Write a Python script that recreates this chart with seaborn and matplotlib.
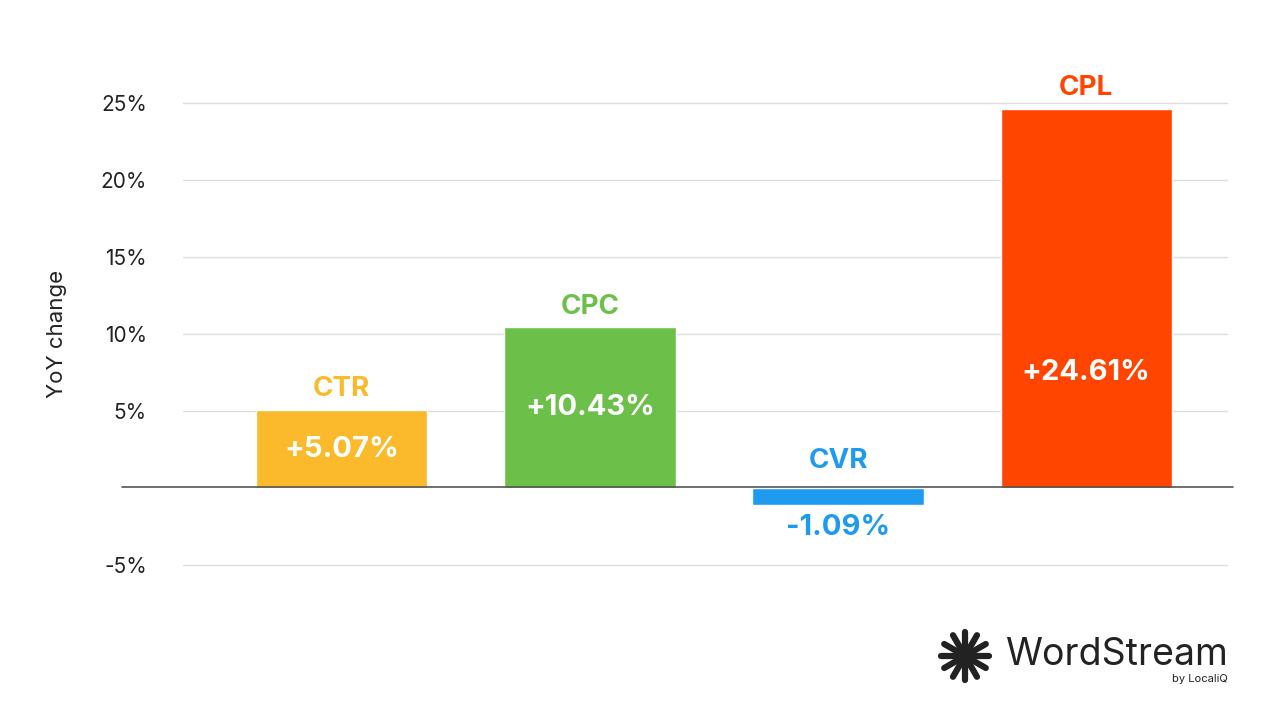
import matplotlib
matplotlib.use("Agg")
import matplotlib.pyplot as plt
import seaborn as sns
import numpy as np
from matplotlib.lines import Line2D

categories = ["CTR", "CPC", "CVR", "CPL"]
values = [5.07, 10.43, -1.09, 24.61]
colors = ["#FBBA2B", "#6CC04A", "#1E9BF0", "#FF4500"]
yticks = [-5, 5, 10, 15, 20, 25]

sns.set_style("white")
plt.rcParams['font.family'] = ['Inter', 'DejaVu Sans']

fig = plt.figure(figsize=(12.8, 7.2), dpi=100)
ax = fig.add_axes([0.143, 0.183, 0.816, 0.706])

sns.barplot(x=categories, y=values, hue=categories, palette=colors, width=0.69,
            legend=False, ax=ax, saturation=1)
ax.set_xlim(-0.64, 3.57)
ax.set_ylim(-6.5, 26.5)
ax.set_yticks(yticks)
ax.set_yticklabels([f"{t}%" for t in yticks], fontsize=15, color="#222222")
ax.tick_params(axis="y", length=0, pad=26)
ax.set_xticks([])
ax.set_xlabel("")
ax.set_ylabel("YoY change", fontsize=16, color="#222222", labelpad=24)
ax.yaxis.grid(True, color="#dddddd", linewidth=1)
ax.set_axisbelow(True)
sns.despine(ax=ax, left=True, bottom=True)

# zero line reaching beyond the grid
fig.add_artist(Line2D([122 / 1280, 1233 / 1280], [1 - 487 / 720] * 2, color="#555555", lw=1.2))

for i, (c, v, col) in enumerate(zip(categories, values, colors)):
    if v >= 0:
        ax.text(i, v + 0.5, c, ha="center", va="bottom", fontsize=20, fontweight="bold", color=col)
        ax.text(i, min(v / 2, 7.5), f"+{v:.2f}%", ha="center", va="center", fontsize=21,
                fontweight="bold", color="white")
    else:
        ax.text(i, 0.9, c, ha="center", va="bottom", fontsize=20, fontweight="bold", color=col)
        ax.text(i, v - 0.6, f"{v:.2f}%", ha="center", va="top", fontsize=21, fontweight="bold", color=col)

# logo
fig.text(1228 / 1280, 1 - 655 / 720, "WordStream", ha="right", va="center", fontsize=27, color="#222222")
fig.text(1228 / 1280, 1 - 679 / 720, "by LocaliQ", ha="right", va="center", fontsize=8, color="#222222")
cx, cy = 965 / 1280, 1 - 656 / 720
for a in np.linspace(0, np.pi, 6, endpoint=False):
    dx, dy = 24 * np.cos(a) / 1280, 24 * np.sin(a) / 720
    fig.add_artist(Line2D([cx - dx, cx + dx], [cy - dy, cy + dy], color="#222222", lw=4.5))

fig.savefig("out.png", dpi=100)
